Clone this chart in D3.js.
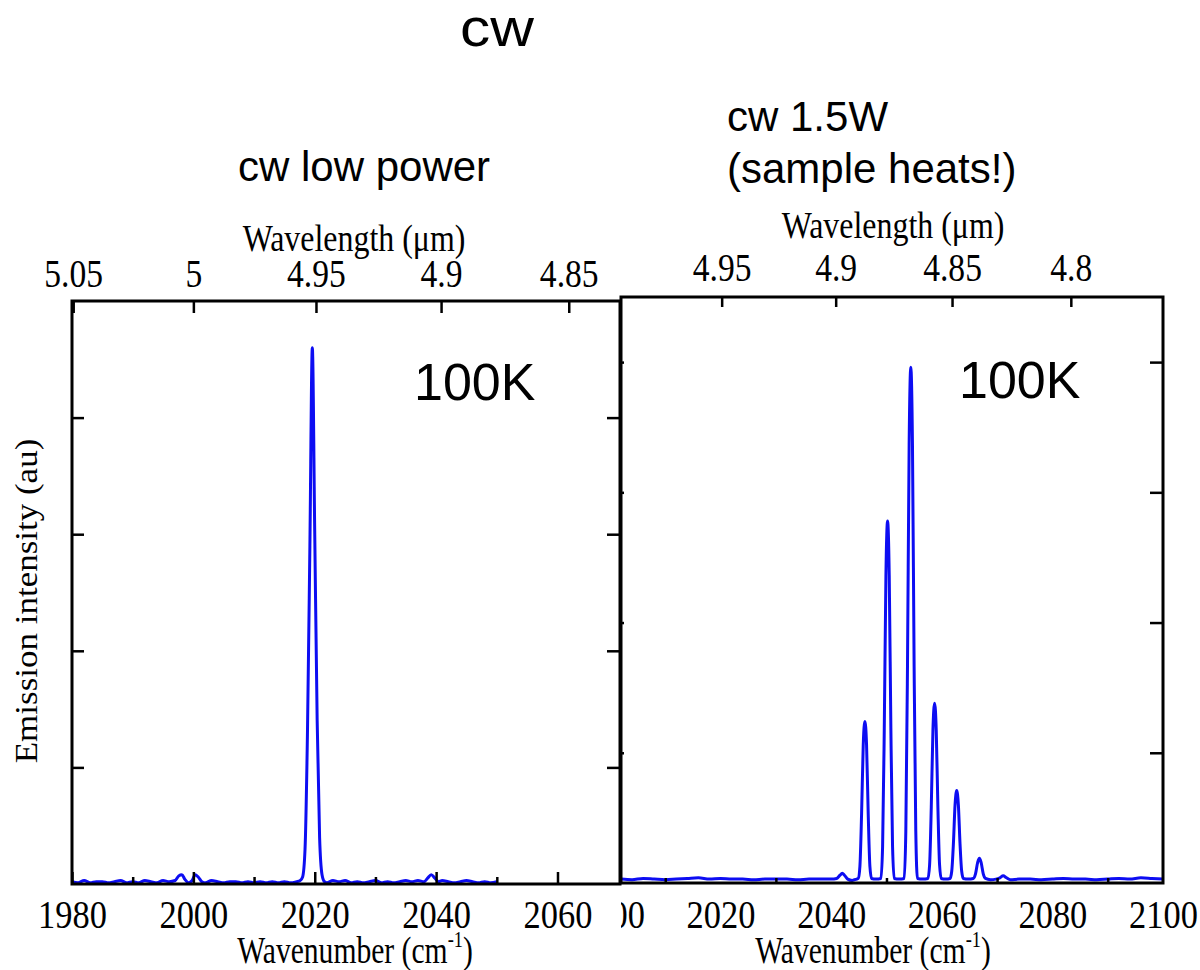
<!DOCTYPE html>
<html>
<head>
<meta charset="utf-8">
<script src="https://cdn.jsdelivr.net/npm/d3@7"></script>
<style>
  body { margin: 0; background: #fff; }
  svg { display: block; }
</style>
</head>
<body>
<div id="chart"></div>
<script>
// cw low power spectrum (wavenumber cm-1, intensity au; 1 au = one y tick)
const lowPowerNu = [1980, 1981, 1982, 1983, 1984, 1985, 1986, 1987, 1988, 1989, 1990, 1991, 1992, 1993, 1994, 1995, 1996, 1997,
    1997.6, 1998.1, 1998.6, 1999.2, 1999.8, 2000.3, 2000.8, 2001.4, 2002, 2003, 2004, 2005, 2006, 2007, 2008, 2009, 2010,
    2011, 2012, 2013, 2014, 2015, 2016, 2017, 2017.6, 2018.0, 2018.4, 2018.8, 2019.2, 2019.6, 2020.0, 2020.4, 2020.8,
    2021.2, 2021.6, 2022, 2023, 2024, 2025, 2026, 2027, 2028, 2029, 2030, 2031, 2032, 2033, 2034, 2035, 2036, 2037, 2038,
    2038.6, 2039.2, 2039.8, 2040.4, 2041, 2042, 2043, 2044, 2045, 2046, 2047, 2048, 2049, 2050];
const lowPowerI = [0.02, 0.01, 0.03, 0.01, 0.02, 0.02, 0.01, 0.02, 0.03, 0.01, 0.02, 0.01, 0.03, 0.02, 0.01, 0.03, 0.02, 0.03,
    0.07, 0.08, 0.04, 0.01, 0.03, 0.08, 0.06, 0.02, 0.01, 0.03, 0.02, 0.01, 0.02, 0.02, 0.01, 0.02, 0.01,
    0.02, 0.01, 0.02, 0.01, 0.02, 0.01, 0.02, 0.03, 0.06, 0.3, 1.3, 2.9, 4.6, 3.0, 1.4, 0.4,
    0.08, 0.02, 0.01, 0.03, 0.02, 0.03, 0.01, 0.02, 0.01, 0.02, 0.03, 0.01, 0.02, 0.01, 0.02, 0.03, 0.02, 0.03, 0.02,
    0.05, 0.08, 0.05, 0.02, 0.03, 0.02, 0.01, 0.02, 0.03, 0.02, 0.01, 0.02, 0.01, 0.02];

// cw 1.5W spectrum
const highPowerNu = [2002, 2004, 2006, 2008, 2010, 2012, 2014, 2016, 2018, 2020, 2022, 2024, 2026, 2028, 2030, 2032, 2034,
    2036, 2038, 2040, 2041.0, 2041.6, 2042.0, 2042.4, 2043.0, 2043.8, 2044.6,
    2044.9, 2045.2, 2045.5, 2045.8, 2046.1, 2046.4, 2046.7, 2047.0, 2047.3, 2048.1,
    2049.0, 2049.3, 2049.6, 2049.9, 2050.2, 2050.5, 2050.8, 2051.1, 2051.4, 2052.3,
    2053.2, 2053.5, 2053.8, 2054.1, 2054.4, 2054.7, 2055.0, 2055.3, 2055.6, 2056.55,
    2057.5, 2057.8, 2058.1, 2058.4, 2058.7, 2059.0, 2059.3, 2059.6, 2059.9, 2060.7,
    2061.5, 2061.8, 2062.1, 2062.4, 2062.7, 2063.0, 2063.3, 2063.6, 2063.9, 2064.8,
    2065.7, 2066.1, 2066.5, 2066.8, 2067.1, 2067.5, 2067.9, 2068.8, 2069.8, 2070.5, 2071.1, 2071.7, 2072.4,
    2074, 2076, 2078, 2080, 2082, 2084, 2086, 2088, 2090, 2092, 2094, 2096, 2098, 2100];
const highPowerI = [0.03, 0.025, 0.035, 0.03, 0.025, 0.03, 0.035, 0.04, 0.03, 0.035, 0.03, 0.03, 0.025, 0.03, 0.03, 0.03, 0.025,
    0.03, 0.03, 0.03, 0.035, 0.06, 0.075, 0.06, 0.03, 0.02, 0.03,
    0.035, 0.13, 0.53, 1.06, 1.24, 1.06, 0.53, 0.13, 0.035, 0.03,
    0.035, 0.28, 1.17, 2.36, 2.78, 2.36, 1.17, 0.28, 0.035, 0.03,
    0.035, 0.4, 1.66, 3.37, 3.96, 3.37, 1.66, 0.4, 0.035, 0.03,
    0.035, 0.14, 0.58, 1.17, 1.38, 1.17, 0.58, 0.14, 0.035, 0.03,
    0.035, 0.09, 0.3, 0.6, 0.71, 0.6, 0.3, 0.09, 0.035, 0.03,
    0.035, 0.07, 0.16, 0.19, 0.16, 0.07, 0.035, 0.025, 0.03, 0.04, 0.055, 0.04, 0.025,
    0.03, 0.03, 0.025, 0.03, 0.035, 0.03, 0.03, 0.025, 0.03, 0.035, 0.03, 0.04, 0.035, 0.03];

const leftMajorTicks = [1980, 2000, 2020, 2040, 2060];
const leftMinorTicks = [1990, 2010, 2030, 2050];
const rightMajorTicks = [2000, 2020, 2040, 2060, 2080, 2100];
const rightMinorTicks = [2010, 2030, 2050, 2070, 2090];
const leftWavelengthTicks = [5.05, 5, 4.95, 4.9, 4.85];
const rightWavelengthTicks = [4.95, 4.9, 4.85, 4.8];
const intensityTicks = [1, 2, 3, 4];

const width = 1200;
const height = 970;
const sans = "'Liberation Sans', Arial, sans-serif";
const serif = "'Liberation Serif', 'Times New Roman', serif";
const squeeze = 0.84;

const svg = d3.select("#chart")
    .append("svg")
    .attr("width", width)
    .attr("height", height);

svg.append("rect").attr("width", width).attr("height", height).attr("fill", "#fff");

svg.append("clipPath").attr("id", "rightClip")
    .append("rect").attr("x", 621).attr("y", 0).attr("width", 600).attr("height", height);

function styleAxis(g, fontSize) {
    g.select(".domain").remove();
    g.attr("font-family", serif).attr("font-size", fontSize);
    g.selectAll("line").attr("stroke", "#000").attr("stroke-width", 2.5);
    g.selectAll("text").attr("fill", "#000").attr("transform", `scale(${squeeze},1)`);
}

function drawPanel(p) {
    const x = d3.scaleLinear().domain(p.nuDomain).range([p.x0, p.x1]);
    const y = d3.scaleLinear().domain(p.yDomain).range([p.y1, p.y0]);

    const line = d3.line()
        .x((d, i) => x(p.nu[i]))
        .y(d => y(d))
        .curve(d3.curveMonotoneX);

    svg.append("path")
        .datum(p.intensity)
        .attr("d", line)
        .attr("fill", "none")
        .attr("stroke", "#0d0df2")
        .attr("stroke-width", 3);

    // bottom: wavenumber
    const bottomMajor = svg.append("g")
        .attr("transform", `translate(0,${p.y1})`)
        .call(d3.axisBottom(x).tickValues(p.major).tickSize(-p.majorLen).tickSizeOuter(0)
            .tickFormat(d3.format("d")));
    styleAxis(bottomMajor, 41);
    bottomMajor.selectAll("text").attr("y", 928 - p.y1).attr("dy", 0);
    bottomMajor.selectAll(".tick").filter(d => d < p.nuDomain[0]).select("line").remove();
    if (p.clip) bottomMajor.attr("clip-path", `url(#${p.clip})`);

    const bottomMinor = svg.append("g")
        .attr("transform", `translate(0,${p.y1})`)
        .call(d3.axisBottom(x).tickValues(p.minor).tickSize(-p.minorLen).tickSizeOuter(0).tickFormat(""));
    styleAxis(bottomMinor, 10);

    // top: wavelength
    const top = svg.append("g")
        .attr("transform", `translate(0,${p.y0})`)
        .call(d3.axisTop(x).tickValues(p.wavelength.map(l => 1e4 / l)).tickSize(-p.topLen).tickSizeOuter(0)
            .tickFormat((d, i) => String(p.wavelength[i])));
    styleAxis(top, 40);
    top.selectAll("text").attr("y", p.topLabelY - p.y0).attr("dy", 0);

    // left / right intensity ticks
    const left = svg.append("g")
        .attr("transform", `translate(${p.x0},0)`)
        .call(d3.axisLeft(y).tickValues(intensityTicks).tickSize(-p.leftLen).tickSizeOuter(0).tickFormat(""));
    styleAxis(left, 10);

    const right = svg.append("g")
        .attr("transform", `translate(${p.x1},0)`)
        .call(d3.axisRight(y).tickValues(intensityTicks).tickSize(-p.rightLen).tickSizeOuter(0).tickFormat(""));
    styleAxis(right, 10);

    svg.append("rect")
        .attr("x", p.x0).attr("y", p.y0)
        .attr("width", p.x1 - p.x0).attr("height", p.y1 - p.y0)
        .attr("fill", "none")
        .attr("stroke", "#000")
        .attr("stroke-width", 3);

    svg.append("text")
        .attr("transform", `translate(${p.titleX},${p.titleY}) scale(${squeeze},1)`)
        .attr("text-anchor", "middle")
        .attr("font-family", serif)
        .attr("font-size", 38)
        .text("Wavelength (\u03bcm)");

    const xl = svg.append("text")
        .attr("transform", `translate(${p.xTitleX},963) scale(0.8,1)`)
        .attr("text-anchor", "middle")
        .attr("font-family", serif)
        .attr("font-size", 37)
        .text("Wavenumber (cm");
    xl.append("tspan").attr("font-size", 23).attr("dy", -16).text("-1");
    xl.append("tspan").attr("dy", 16).text(")");

    svg.append("text")
        .attr("x", p.kelvinX).attr("y", p.kelvinY)
        .attr("font-family", sans)
        .attr("font-size", 52)
        .text("100K");
}

drawPanel({
    nu: lowPowerNu, intensity: lowPowerI,
    nuDomain: [1980, 2070.3], yDomain: [0, 5],
    x0: 72, x1: 620, y0: 301, y1: 884,
    major: leftMajorTicks, minor: leftMinorTicks, majorLen: 12, minorLen: 7,
    wavelength: leftWavelengthTicks, topLen: 12, topLabelY: 287,
    leftLen: 12, rightLen: 13,
    titleX: 354, titleY: 251, xTitleX: 355, kelvinX: 414, kelvinY: 400
});

drawPanel({
    nu: highPowerNu, intensity: highPowerI,
    nuDomain: [2002, 2100], yDomain: [0, 4.5],
    x0: 621, x1: 1163, y0: 297, y1: 883,
    major: rightMajorTicks, minor: rightMinorTicks, majorLen: 10, minorLen: 5,
    wavelength: rightWavelengthTicks, topLen: 10, topLabelY: 281,
    leftLen: 3, rightLen: 13,
    titleX: 893, titleY: 238, xTitleX: 873, kelvinX: 959, kelvinY: 398, clip: "rightClip"
});

svg.append("text")
    .attr("transform", `translate(37,601) scale(0.88,1) rotate(-90)`)
    .attr("text-anchor", "middle")
    .attr("font-family", serif)
    .attr("font-size", 35)
    .text("Emission intensity (au)");

svg.append("text")
    .attr("transform", "translate(497,46) scale(1.12,1)")
    .attr("text-anchor", "middle")
    .attr("font-family", sans)
    .attr("font-size", 54)
    .text("cw");

svg.append("text")
    .attr("x", 238).attr("y", 181)
    .attr("font-family", sans)
    .attr("font-size", 42)
    .text("cw low power");

svg.append("text")
    .attr("x", 727).attr("y", 131)
    .attr("font-family", sans)
    .attr("font-size", 42)
    .text("cw 1.5W");

svg.append("text")
    .attr("x", 727).attr("y", 183)
    .attr("font-family", sans)
    .attr("font-size", 42)
    .text("(sample heats!)");
</script>
</body>
</html>
